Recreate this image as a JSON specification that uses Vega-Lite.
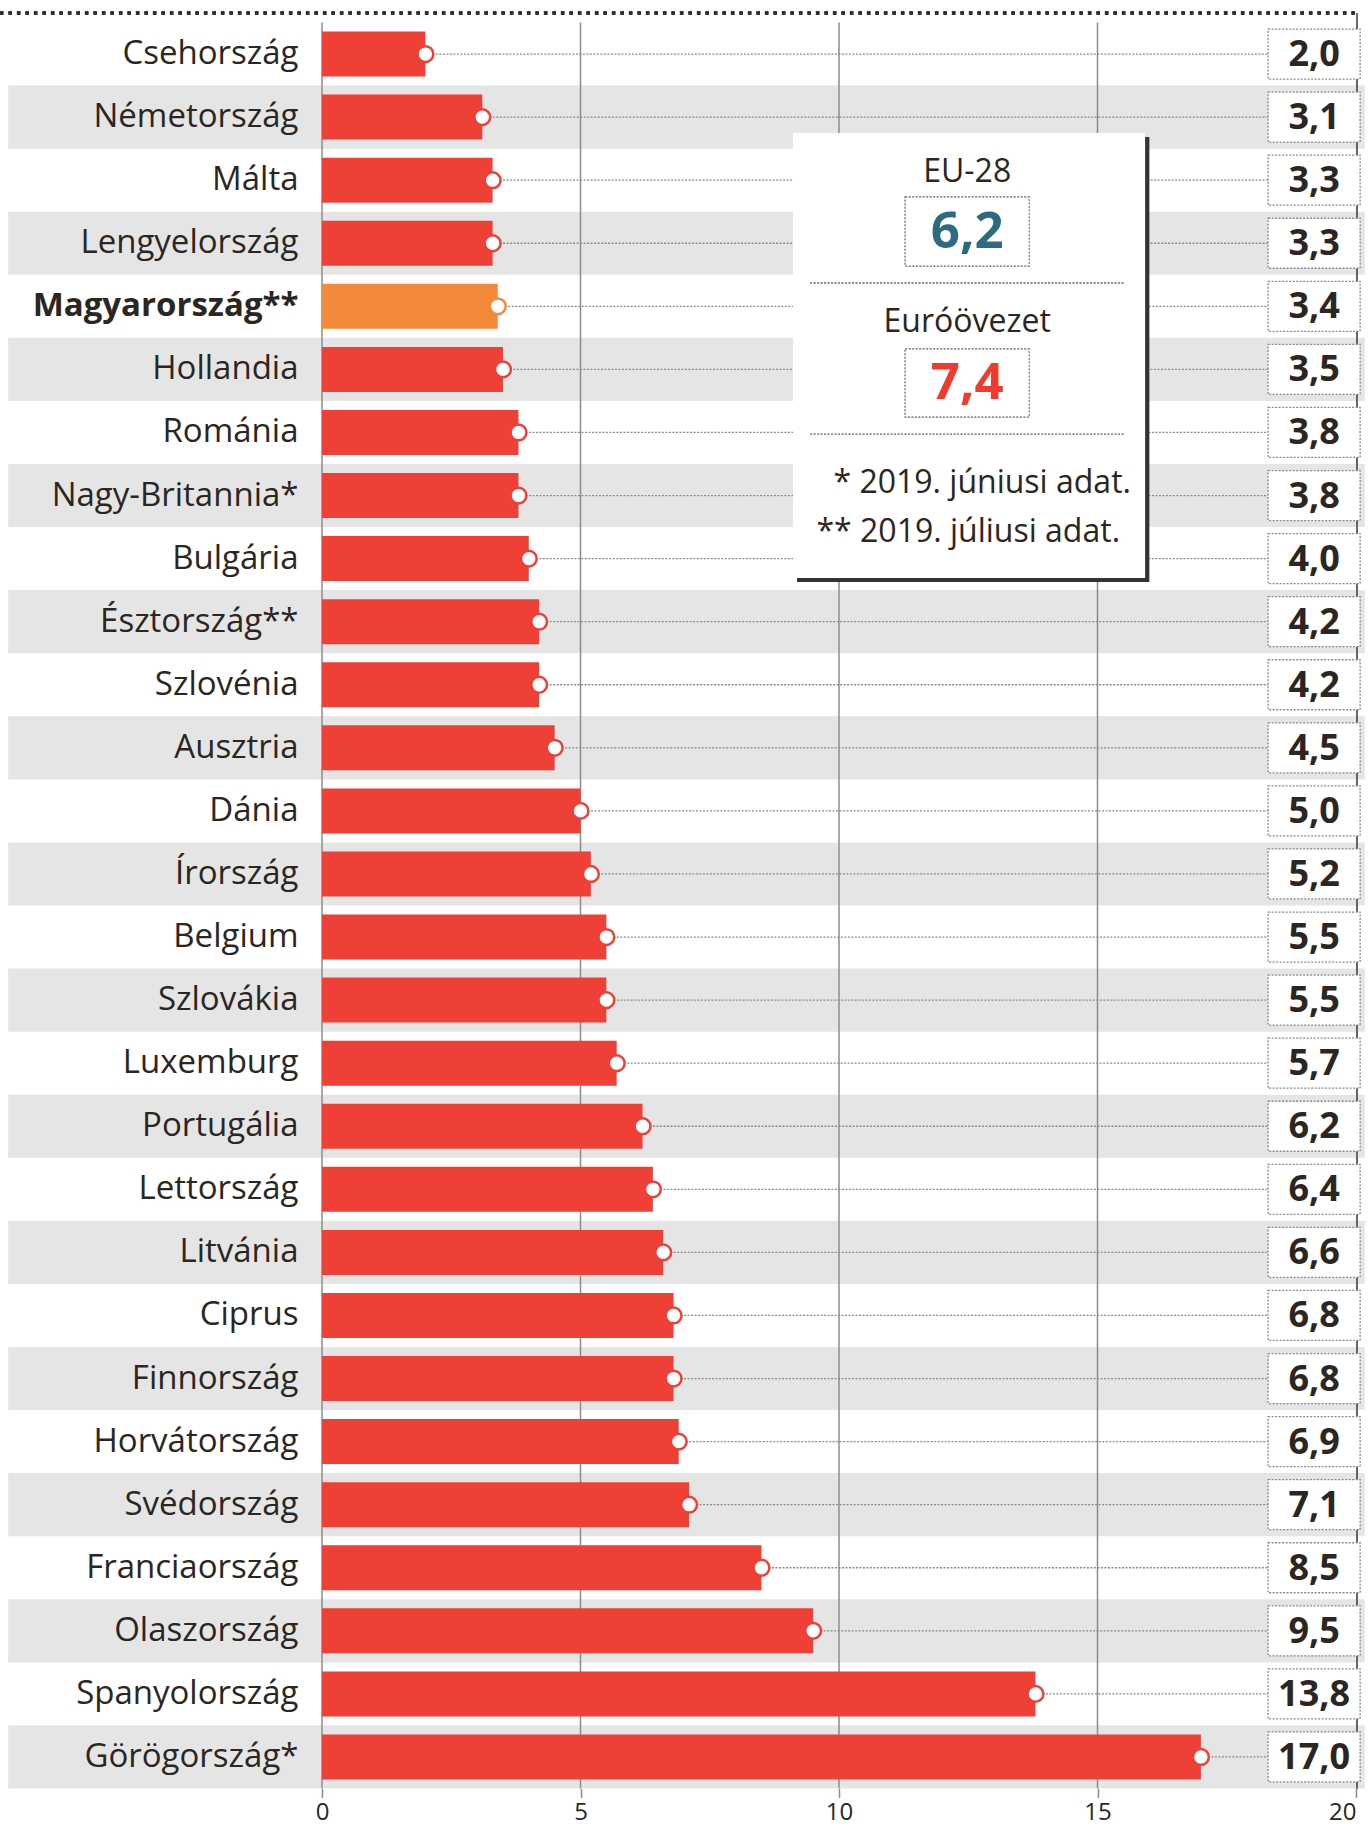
{
  "$schema": "https://vega.github.io/schema/vega-lite/v6.json",
  "width": 1034,
  "height": 1766,
  "autosize": {"type": "none"},
  "padding": {"left": 322, "top": 22.5, "right": 15, "bottom": 40.5},
  "background": "white",
  "config": {
    "view": {"stroke": null},
    "font": "Open Sans",
    "locale": {"number": {"decimal": ",", "thousands": " ", "grouping": [3], "currency": ["", ""]}}
  },
  "datasets": {
    "main": [
      {"country": "Csehország", "value": 2.0},
      {"country": "Németország", "value": 3.1},
      {"country": "Málta", "value": 3.3},
      {"country": "Lengyelország", "value": 3.3},
      {"country": "Magyarország**", "value": 3.4},
      {"country": "Hollandia", "value": 3.5},
      {"country": "Románia", "value": 3.8},
      {"country": "Nagy-Britannia*", "value": 3.8},
      {"country": "Bulgária", "value": 4.0},
      {"country": "Észtország**", "value": 4.2},
      {"country": "Szlovénia", "value": 4.2},
      {"country": "Ausztria", "value": 4.5},
      {"country": "Dánia", "value": 5.0},
      {"country": "Írország", "value": 5.2},
      {"country": "Belgium", "value": 5.5},
      {"country": "Szlovákia", "value": 5.5},
      {"country": "Luxemburg", "value": 5.7},
      {"country": "Portugália", "value": 6.2},
      {"country": "Lettország", "value": 6.4},
      {"country": "Litvánia", "value": 6.6},
      {"country": "Ciprus", "value": 6.8},
      {"country": "Finnország", "value": 6.8},
      {"country": "Horvátország", "value": 6.9},
      {"country": "Svédország", "value": 7.1},
      {"country": "Franciaország", "value": 8.5},
      {"country": "Olaszország", "value": 9.5},
      {"country": "Spanyolország", "value": 13.8},
      {"country": "Görögország*", "value": 17.0}
    ],
    "stripes": [
      {"country": "Németország"}, {"country": "Lengyelország"}, {"country": "Hollandia"},
      {"country": "Nagy-Britannia*"}, {"country": "Észtország**"}, {"country": "Ausztria"},
      {"country": "Írország"}, {"country": "Szlovákia"}, {"country": "Portugália"},
      {"country": "Litvánia"}, {"country": "Finnország"}, {"country": "Svédország"},
      {"country": "Olaszország"}, {"country": "Görögország*"}
    ],
    "grid": [{"tick": 0}, {"tick": 5}, {"tick": 10}, {"tick": 15}],
    "summary": [
      {"label": "EU-28", "value": 6.2},
      {"label": "Euróövezet", "value": 7.4}
    ]
  },
  "layer": [
    {
      "layer": [
        {
          "data": {"name": "stripes"},
          "mark": {"type": "bar", "color": "#e5e5e5", "height": {"band": 1.4016}},
          "encoding": {
            "y": {
              "field": "country", "type": "nominal", "title": null,
              "scale": {
                "domain": ["Csehország","Németország","Málta","Lengyelország","Magyarország**","Hollandia","Románia","Nagy-Britannia*","Bulgária","Észtország**","Szlovénia","Ausztria","Dánia","Írország","Belgium","Szlovákia","Luxemburg","Portugália","Lettország","Litvánia","Ciprus","Finnország","Horvátország","Svédország","Franciaország","Olaszország","Spanyolország","Görögország*"],
                "paddingInner": 0.286, "paddingOuter": 0.143
              },
              "axis": {
                "domain": false, "ticks": false, "grid": false, "zindex": 1,
                "labelFont": "Open Sans", "labelFontSize": 33, "labelColor": "#2b2622",
                "labelPadding": 24, "labelLimit": 400,
                "labelFontWeight": {"condition": {"test": "datum.value === 'Magyarország**'", "value": "bold"}, "value": "normal"}
              }
            },
            "x": {"datum": -6.07, "scale": {"domain": [0, 20], "nice": false, "zero": false}},
            "x2": {"datum": 20.17}
          }
        },
        {
          "data": {"name": "grid"},
          "mark": {"type": "rule", "color": "#8c8c8c", "strokeWidth": 1.5},
          "encoding": {
            "x": {"field": "tick", "type": "quantitative"}
          }
        },
        {
          "data": {"name": "grid"},
          "mark": {"type": "rule", "color": "#666666", "strokeWidth": 1.5},
          "encoding": {
            "x": {"datum": 20.02}
          }
        },
        {
          "data": {"name": "main"},
          "mark": {"type": "rule", "color": "#8a8a8a", "strokeWidth": 1.3, "strokeDash": [2, 1.5]},
          "encoding": {
            "y": {"field": "country", "type": "nominal"},
            "x": {"field": "value", "type": "quantitative"},
            "x2": {"datum": 18.3}
          }
        },
        {
          "data": {"name": "main"},
          "mark": {"type": "bar"},
          "encoding": {
            "y": {"field": "country", "type": "nominal"},
            "x": {
              "field": "value", "type": "quantitative", "title": null,
              "axis": {
                "values": [0, 5, 10, 15, 20], "domain": false, "grid": false,
                "ticks": true, "tickSize": 9, "tickColor": "#8c8c8c", "tickWidth": 1.5,
                "labelFont": "Open Sans", "labelFontSize": 24, "labelColor": "#2b2622",
                "labelPadding": 3, "labelFlush": false, "labelOverlap": false,
                "labelAlign": {"condition": {"test": "datum.value === 20", "value": "right"}, "value": "center"}
              }
            },
            "color": {
              "condition": {"test": "datum.country === 'Magyarország**'", "value": "#f3893b"},
              "value": "#ee4036"
            }
          }
        },
        {
          "data": {"name": "main"},
          "mark": {"type": "point", "shape": "circle", "filled": false, "fill": "white", "fillOpacity": 1, "strokeWidth": 2.5, "size": 250, "opacity": 1},
          "encoding": {
            "y": {"field": "country", "type": "nominal"},
            "x": {"field": "value", "type": "quantitative"},
            "stroke": {
              "condition": {"test": "datum.country === 'Magyarország**'", "value": "#f3893b"},
              "value": "#ee4036"
            }
          }
        },
        {
          "data": {"name": "main"},
          "mark": {"type": "bar", "fill": "white", "stroke": "#8a8a8a", "strokeWidth": 1.3, "strokeDash": [2, 1.5], "height": {"band": 1.11}},
          "encoding": {
            "y": {"field": "country", "type": "nominal"},
            "x": {"datum": 18.3},
            "x2": {"datum": 20.08}
          }
        },
        {
          "data": {"name": "main"},
          "mark": {"type": "text", "font": "Open Sans", "fontWeight": "bold", "fontSize": 36, "color": "#2b2622", "align": "center", "baseline": "middle", "dy": 1},
          "encoding": {
            "y": {"field": "country", "type": "nominal"},
            "x": {"datum": 19.19},
            "text": {"field": "value", "type": "quantitative", "format": ".1f"}
          }
        }
      ]
    },
    {
      "data": {"name": "summary"},
      "layer": [
        {
          "mark": {"type": "rule", "color": "#2b2b2b", "strokeWidth": 3.5, "strokeDash": [3.5, 5]},
          "encoding": {
            "x": {"datum": -6.23},
            "x2": {"datum": 20.04},
            "y": {"datum": -0.15, "type": "quantitative", "axis": null, "scale": {"domain": [0, 28], "reverse": true, "nice": false, "zero": false}}
          }
        },
        {
          "mark": {"type": "rule", "color": "#666666", "strokeWidth": 1.5},
          "encoding": {
            "x": {"datum": 20.02},
            "y": {"datum": -0.15, "type": "quantitative", "axis": null},
            "y2": {"datum": 0.1}
          }
        },
        {
          "mark": {"type": "rect", "color": "#333333"},
          "encoding": {
            "x": {"datum": 9.19}, "x2": {"datum": 16.0},
            "y": {"datum": 1.815, "type": "quantitative", "axis": null}, "y2": {"datum": 8.87}
          }
        },
        {
          "mark": {"type": "rect", "color": "white"},
          "encoding": {
            "x": {"datum": 9.11}, "x2": {"datum": 15.92},
            "y": {"datum": 1.752, "type": "quantitative", "axis": null}, "y2": {"datum": 8.808}
          }
        },
        {
          "mark": {"type": "rect", "fill": "white", "stroke": "#8a8a8a", "strokeWidth": 1.3, "strokeDash": [2, 1.5]},
          "encoding": {
            "x": {"datum": 11.28}, "x2": {"datum": 13.68},
            "y": {"datum": 2.767, "type": "quantitative", "axis": null}, "y2": {"datum": 3.861}
          }
        },
        {
          "mark": {"type": "rect", "fill": "white", "stroke": "#8a8a8a", "strokeWidth": 1.3, "strokeDash": [2, 1.5]},
          "encoding": {
            "x": {"datum": 11.28}, "x2": {"datum": 13.68},
            "y": {"datum": 5.177, "type": "quantitative", "axis": null}, "y2": {"datum": 6.255}
          }
        },
        {
          "mark": {"type": "rule", "color": "#8a8a8a", "strokeWidth": 1.3, "strokeDash": [2, 1.5]},
          "encoding": {
            "x": {"datum": 9.44}, "x2": {"datum": 15.53},
            "y": {"datum": 4.13, "type": "quantitative", "axis": null}
          }
        },
        {
          "mark": {"type": "rule", "color": "#8a8a8a", "strokeWidth": 1.3, "strokeDash": [2, 1.5]},
          "encoding": {
            "x": {"datum": 9.44}, "x2": {"datum": 15.53},
            "y": {"datum": 6.525, "type": "quantitative", "axis": null}
          }
        },
        {
          "transform": [{"filter": "datum.label === 'EU-28'"}],
          "mark": {"type": "text", "font": "Open Sans", "fontSize": 32, "color": "#2b2622", "align": "center", "baseline": "middle"},
          "encoding": {
            "x": {"datum": 12.48},
            "y": {"datum": 2.37, "type": "quantitative", "axis": null},
            "text": {"field": "label", "type": "nominal"}
          }
        },
        {
          "transform": [{"filter": "datum.label === 'EU-28'"}],
          "mark": {"type": "text", "font": "Open Sans", "fontWeight": "bold", "fontSize": 51, "color": "#2f6b80", "align": "center", "baseline": "middle", "dy": 2},
          "encoding": {
            "x": {"datum": 12.48},
            "y": {"datum": 3.306, "type": "quantitative", "axis": null},
            "text": {"field": "value", "type": "quantitative", "format": ".1f"}
          }
        },
        {
          "transform": [{"filter": "datum.label === 'Euróövezet'"}],
          "mark": {"type": "text", "font": "Open Sans", "fontSize": 32, "color": "#2b2622", "align": "center", "baseline": "middle"},
          "encoding": {
            "x": {"datum": 12.48},
            "y": {"datum": 4.75, "type": "quantitative", "axis": null},
            "text": {"field": "label", "type": "nominal"}
          }
        },
        {
          "transform": [{"filter": "datum.label === 'Euróövezet'"}],
          "mark": {"type": "text", "font": "Open Sans", "fontWeight": "bold", "fontSize": 51, "color": "#ee3a2f", "align": "center", "baseline": "middle", "dy": 2},
          "encoding": {
            "x": {"datum": 12.48},
            "y": {"datum": 5.70, "type": "quantitative", "axis": null},
            "text": {"field": "value", "type": "quantitative", "format": ".1f"}
          }
        },
        {
          "transform": [{"filter": "datum.label === 'EU-28'"}],
          "mark": {"type": "text", "font": "Open Sans", "fontSize": 32, "color": "#2b2622", "align": "center", "baseline": "middle", "text": "* 2019. júniusi adat."},
          "encoding": {
            "x": {"datum": 12.77},
            "y": {"datum": 7.30, "type": "quantitative", "axis": null}
          }
        },
        {
          "transform": [{"filter": "datum.label === 'EU-28'"}],
          "mark": {"type": "text", "font": "Open Sans", "fontSize": 32, "color": "#2b2622", "align": "center", "baseline": "middle", "text": "** 2019. júliusi adat."},
          "encoding": {
            "x": {"datum": 12.50},
            "y": {"datum": 8.08, "type": "quantitative", "axis": null}
          }
        }
      ]
    }
  ],
  "resolve": {"scale": {"y": "independent"}, "axis": {"y": "independent"}}
}
